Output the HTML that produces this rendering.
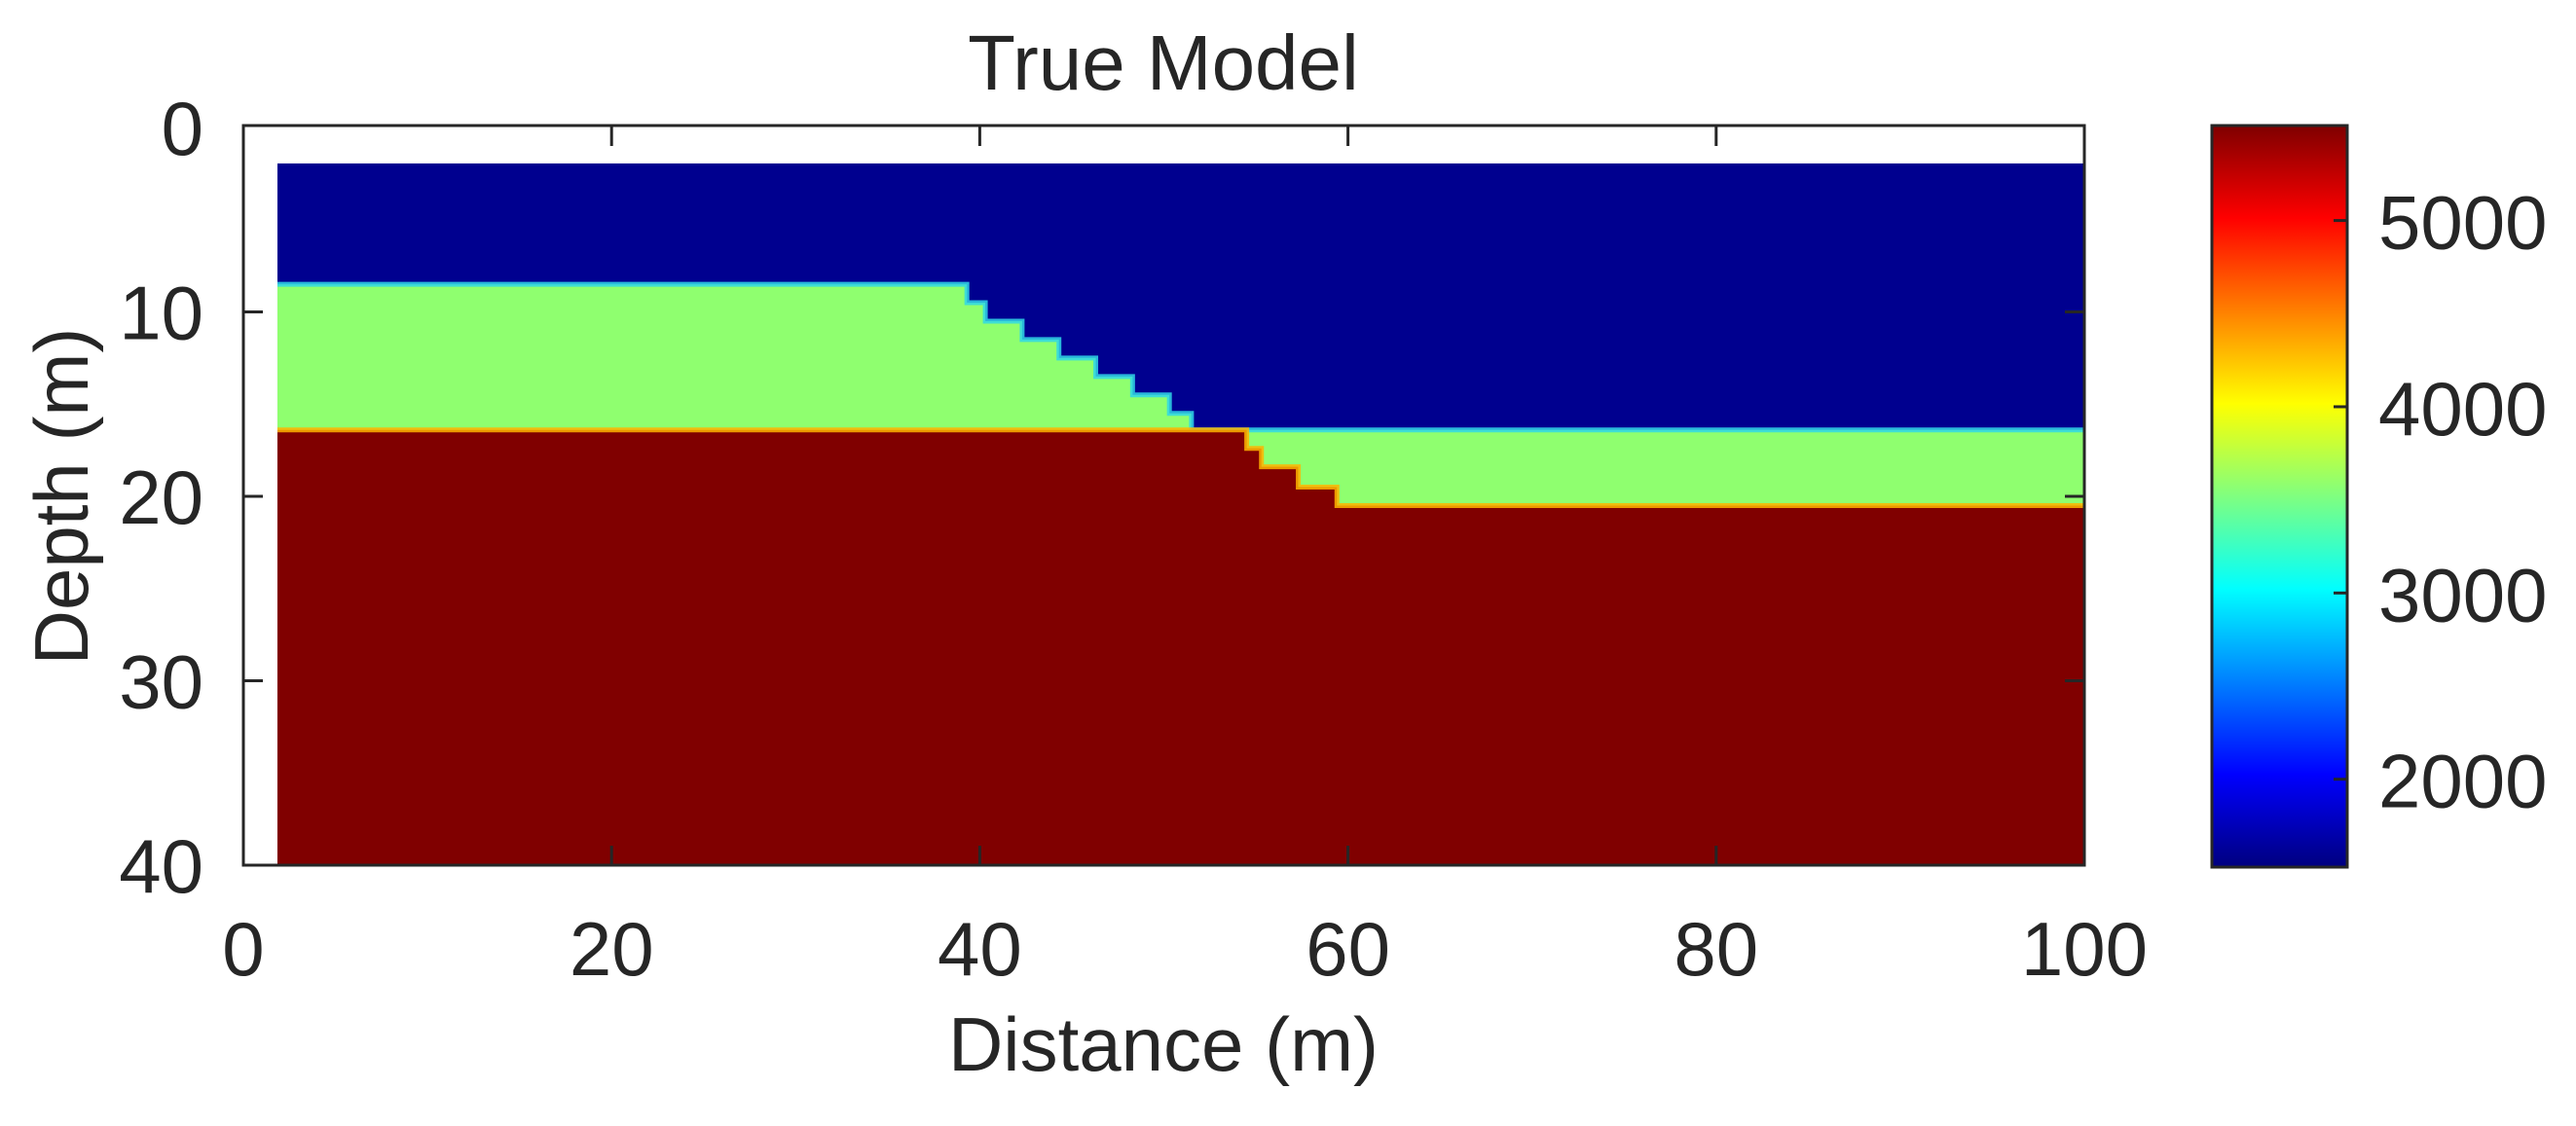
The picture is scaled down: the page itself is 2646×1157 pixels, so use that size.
<!DOCTYPE html>
<html><head><meta charset="utf-8"><style>
html,body{margin:0;padding:0;background:#fff;}
svg{display:block;}
text{font-family:"Liberation Sans",Arial,sans-serif;fill:#262626;}
</style></head><body>
<svg id="chart" width="2646" height="1157" viewBox="0 0 2646 1157" xmlns="http://www.w3.org/2000/svg">
<defs>
<linearGradient id="jet" x1="0" y1="1" x2="0" y2="0">
<stop offset="0" stop-color="#00007f"/>
<stop offset="0.125" stop-color="#0000ff"/>
<stop offset="0.375" stop-color="#00ffff"/>
<stop offset="0.625" stop-color="#ffff00"/>
<stop offset="0.875" stop-color="#ff0000"/>
<stop offset="1" stop-color="#7f0000"/>
</linearGradient>
</defs>
<g id="plot"></g>
<g id="axes"></g>
<text x="1195" y="92" font-size="80" text-anchor="middle">True Model</text>
<text x="1195" y="1100" font-size="78" text-anchor="middle">Distance (m)</text>
<text transform="translate(90,510) rotate(-90)" font-size="78" text-anchor="middle">Depth (m)</text>
<rect x="2272" y="129" width="139" height="762" fill="url(#jet)" stroke="#262626" stroke-width="3"/>
<g id="cbar"></g>
</svg>
<script>
// data
const xTicks = [0, 20, 40, 60, 80, 100];
const yTicks = [0, 10, 20, 30, 40];
const cbTicks = [2000, 3000, 4000, 5000];
const cbRange = [1528, 5510];
const modelExtentX = [1.85, 100];
const modelExtentY = [1.95, 40];
// interface 1 (blue / green): x edges of steps and depths of segments
const iface1Edges = [39.3, 40.3, 42.3, 44.3, 46.3, 48.3, 50.3, 51.5];
const iface1Depths = [8.5, 9.5, 10.5, 11.5, 12.5, 13.5, 14.5, 15.5, 16.4];
// interface 2 (green / red)
const iface2Edges = [54.5, 55.3, 57.3, 59.4];
const iface2Depths = [16.4, 17.4, 18.4, 19.5, 20.5];
const layerColors = ["#00008f", "#8fff6f", "#800000"];

const NS = "http://www.w3.org/2000/svg";
const X0 = 250, X1 = 2141, Y0 = 131, Y1 = 889;
const sx = v => X0 + (v - 0) / 100 * (X1 - X0);
const sy = v => Y0 + (v - 0) / 40 * (Y1 - Y0);
const cbY = v => 891 - (v - cbRange[0]) / (cbRange[1] - cbRange[0]) * (891 - 129);

function mk(tag, attrs, parent) {
  const e = document.createElementNS(NS, tag);
  for (const k in attrs) e.setAttribute(k, attrs[k]);
  parent.appendChild(e);
  return e;
}
function stepPoints(edges, depths) {
  const pts = [];
  let x = modelExtentX[0];
  for (let i = 0; i < depths.length; i++) {
    const xe = i < edges.length ? edges[i] : modelExtentX[1];
    pts.push([sx(x), sy(depths[i])]);
    pts.push([sx(xe), sy(depths[i])]);
    x = xe;
  }
  return pts;
}
const plot = document.getElementById('plot');
const bg = mk('rect', {x: sx(modelExtentX[0]), y: sy(modelExtentY[0]), width: sx(modelExtentX[1]) - sx(modelExtentX[0]), height: sy(modelExtentY[1]) - sy(modelExtentY[0]), fill: layerColors[0]}, plot);



function layer(edges, depths, color, name, lineColor) {
  const pts = stepPoints(edges, depths);
  const poly = pts.concat([[sx(modelExtentX[1]), sy(modelExtentY[1])], [sx(modelExtentX[0]), sy(modelExtentY[1])]]);
  const p = mk('polygon', {points: poly.map(p => p.join(',')).join(' '), fill: color}, plot);
  
  
  const l = mk('polyline', {points: pts.map(p => p.join(',')).join(' '), fill: 'none', stroke: lineColor, 'stroke-width': 5, opacity: 0.85}, plot);
  
  
}
layer(iface1Edges, iface1Depths, layerColors[1], 'layer-middle', '#30d8e8');
layer(iface2Edges, iface2Depths, layerColors[2], 'layer-bottom', '#ffb400');

const axes = document.getElementById('axes');
const box = mk('rect', {x: X0, y: Y0 - 2, width: X1 - X0, height: Y1 - Y0 + 2, fill: 'none', stroke: '#262626', 'stroke-width': 3}, axes);


xTicks.forEach(v => {
  const x = sx(v);
  if (v > 0 && v < 100) {
    const t1 = mk('line', {x1: x, x2: x, y1: Y0 - 2, y2: Y0 + 19, stroke: '#262626', 'stroke-width': 3}, axes);
    
    
    const t2 = mk('line', {x1: x, x2: x, y1: Y1, y2: Y1 - 20, stroke: '#262626', 'stroke-width': 3}, axes);
    
    
  }
  const t = mk('text', {x: x, y: 1002, 'font-size': 78, 'text-anchor': 'middle'}, axes);
  t.textContent = v;
  
  
});
yTicks.forEach(v => {
  const y = sy(v);
  if (v > 0 && v < 40) {
    const t1 = mk('line', {x1: X0, x2: X0 + 20, y1: y, y2: y, stroke: '#262626', 'stroke-width': 3}, axes);
    
    
    const t2 = mk('line', {x1: X1, x2: X1 - 20, y1: y, y2: y, stroke: '#262626', 'stroke-width': 3}, axes);
    
    
  }
  const t = mk('text', {x: 209, y: y + 28, 'font-size': 78, 'text-anchor': 'end'}, axes);
  t.textContent = v;
  
  
});
const cbar = document.getElementById('cbar');
cbTicks.forEach(v => {
  const y = cbY(v);
  const tk = mk('line', {x1: 2411, x2: 2397, y1: y, y2: y, stroke: '#262626', 'stroke-width': 3}, cbar);
  
  
  const t = mk('text', {x: 2443, y: y + 29, 'font-size': 78}, cbar);
  t.textContent = v;
  
  
});
</script>
</body></html>
